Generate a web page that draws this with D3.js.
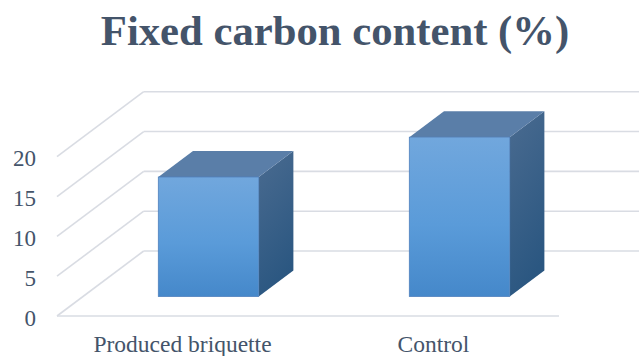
<!DOCTYPE html>
<html>
<head>
<meta charset="utf-8">
<script src="https://cdn.jsdelivr.net/npm/d3@7"></script>
<style>
  html, body { margin: 0; padding: 0; background: #fff; }
  svg { display: block; }
  text { font-family: "Liberation Serif", "Times New Roman", serif; }
</style>
</head>
<body>
<svg id="chart" width="639" height="356"></svg>
<script>
// Chart data
const categories = ["Produced briquette", "Control"];
const fixedCarbon = [15, 20];
const yTicks = [0, 5, 10, 15, 20];
const chartTitle = "Fixed carbon content (%)";

const svg = d3.select("#chart");

// Plot frame (front plane of the 3D box)
const frontLeft = 57, frontRight = 559, floorY = 316, topY = 156.7;
const depthDX = 86.7, depthDY = -65;           // full depth offset (oblique projection)
const barDepth0 = 0.3, barDepth1 = 0.7;        // bar occupies the middle of the depth

const x = d3.scaleBand()
  .domain(categories)
  .range([frontLeft, frontRight])
  .paddingInner(0.6)
  .paddingOuter(0.3);

const y = d3.scaleLinear().domain([0, 20]).range([floorY, topY]);
const dz = d3.scaleLinear().domain([0, 1]).range([0, 1]);
const ox = t => dz(t) * depthDX;
const oy = t => dz(t) * depthDY;

const grid = svg.append("g").attr("fill", "none")
  .attr("stroke", "#d9dce3").attr("stroke-width", 1.6);

// Side wall gridlines (front to back) and back wall gridlines
yTicks.forEach(v => {
  grid.append("line")
    .attr("x1", frontLeft).attr("y1", y(v))
    .attr("x2", frontLeft + ox(1)).attr("y2", y(v) + oy(1));
  grid.append("line")
    .attr("x1", frontLeft + ox(1)).attr("y1", y(v) + oy(1))
    .attr("x2", frontRight + ox(1)).attr("y2", y(v) + oy(1));
});
// Floor front edge
grid.append("line")
  .attr("x1", frontLeft).attr("y1", floorY)
  .attr("x2", frontRight).attr("y2", floorY);

// Gradients for bar faces
const defs = svg.append("defs");
const gFront = defs.append("linearGradient").attr("id", "gFront")
  .attr("x1", 0).attr("y1", 0).attr("x2", 0).attr("y2", 1);
gFront.append("stop").attr("offset", "0%").attr("stop-color", "#71a7dd");
gFront.append("stop").attr("offset", "55%").attr("stop-color", "#5a9bd9");
gFront.append("stop").attr("offset", "100%").attr("stop-color", "#4588ca");
const gSide = defs.append("linearGradient").attr("id", "gSide")
  .attr("x1", 0).attr("y1", 0).attr("x2", 0.3).attr("y2", 1);
gSide.append("stop").attr("offset", "0%").attr("stop-color", "#4a6b90");
gSide.append("stop").attr("offset", "100%").attr("stop-color", "#2b5781");

const bars = svg.append("g");
categories.forEach((c, i) => {
  const v = fixedCarbon[i];
  const x0 = x(c) + ox(barDepth0), x1 = x0 + x.bandwidth();
  const yb = y(0) + oy(barDepth0), yt = y(v) + oy(barDepth0);
  const ddx = ox(barDepth1) - ox(barDepth0), ddy = oy(barDepth1) - oy(barDepth0);
  const g = bars.append("g");
  // side face
  g.append("path")
    .attr("d", `M${x1},${yt}L${x1 + ddx},${yt + ddy}L${x1 + ddx},${yb + ddy}L${x1},${yb}Z`)
    .attr("fill", "url(#gSide)");
  // top face
  g.append("path")
    .attr("d", `M${x0},${yt}L${x0 + ddx},${yt + ddy}L${x1 + ddx},${yt + ddy}L${x1},${yt}Z`)
    .attr("fill", "#5a7ea8");
  // front face
  g.append("rect")
    .attr("x", x0).attr("y", yt)
    .attr("width", x1 - x0).attr("height", yb - yt)
    .attr("fill", "url(#gFront)")
    .attr("stroke", "#4f81bd").attr("stroke-width", 0.8);
});

// Value axis labels
const yAxis = svg.append("g")
  .attr("transform", `translate(${frontLeft},0)`)
  .call(d3.axisLeft(y).tickValues(yTicks).tickSize(0).tickPadding(21));
yAxis.select(".domain").remove();
yAxis.selectAll("text")
  .attr("fill", "#44546a")
  .style("font-family", "'Liberation Serif', 'Times New Roman', serif")
  .style("font-size", "23px")
  .attr("dy", "0.4em");

// Category axis labels
const xAxis = svg.append("g")
  .attr("transform", `translate(0,${floorY})`)
  .call(d3.axisBottom(x).tickSize(0).tickPadding(19));
xAxis.select(".domain").remove();
xAxis.selectAll("text")
  .attr("fill", "#44546a")
  .style("font-family", "'Liberation Serif', 'Times New Roman', serif")
  .style("font-size", "23.5px");

// Title
svg.append("text")
  .attr("x", 335).attr("y", 45)
  .attr("text-anchor", "middle")
  .attr("fill", "#44546a")
  .style("font-size", "42.7px")
  .style("font-weight", "bold")
  .text(chartTitle);
</script>
</body>
</html>
